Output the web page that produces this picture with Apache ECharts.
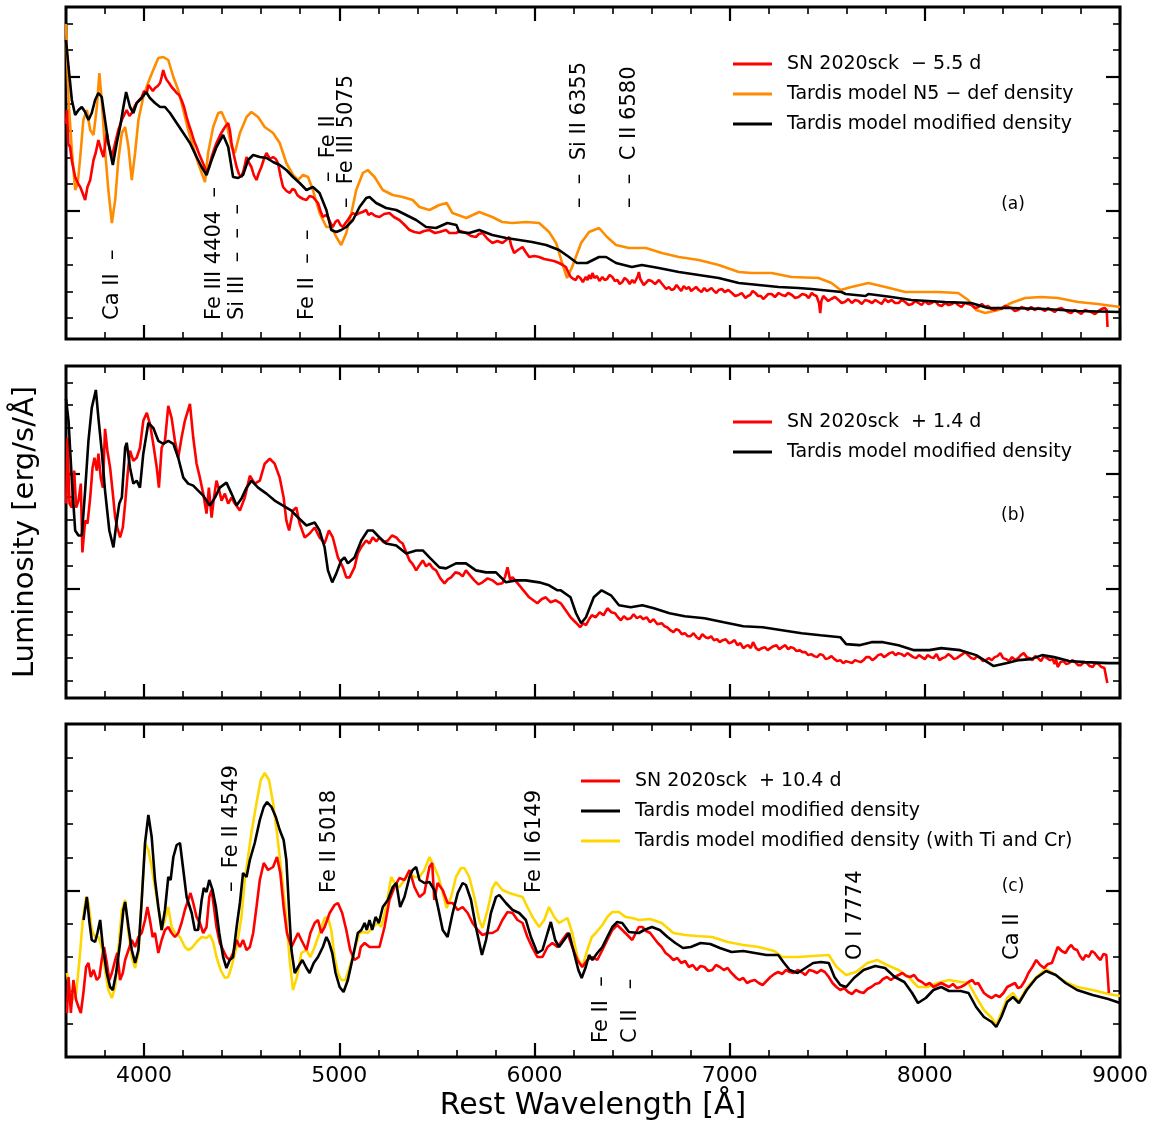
<!DOCTYPE html>
<html><head><meta charset="utf-8">
<script src="https://cdn.jsdelivr.net/npm/echarts@6/dist/echarts.min.js"></script>
<style>html,body{margin:0;padding:0;background:#fff;} #chart{width:1159px;height:1123px;}</style>
</head><body><div id="chart"></div>
<script>
// ---------- axis ticks / labels ----------
const xMin = 3600, xMax = 9000;
const xMajorTicks = [4000, 5000, 6000, 7000, 8000, 9000];
const xMinorTicks = [3800, 4200, 4400, 4600, 4800, 5200, 5400, 5600, 5800, 6200, 6400, 6600, 6800, 7200, 7400, 7600, 7800, 8200, 8400, 8600, 8800];
const yMaxA = 33.2, yMaxB = 33.3, yMaxC = 33.3;
const aYMajor = [12.8, 26.2];
const aYMinor = [2.08, 4.76, 7.44, 10.12, 15.48, 18.16, 20.84, 23.52, 28.88, 31.56];
const bYMajor = [10.97, 22.47];
const bYMinor = [1.77, 4.07, 6.37, 8.67, 13.27, 15.57, 17.87, 20.17, 24.77, 27.07, 29.37, 31.67];
const cYMajor = [16.63];
const cYMinor = [3.33, 6.65, 9.98, 13.3, 19.96, 23.28, 26.61, 29.93];

// ---------- names ----------
const aNames = ['SN 2020sck  \u2212 5.5 d', 'Tardis model N5 \u2212 def density', 'Tardis model modified density'];
const bNames = ['SN 2020sck  + 1.4 d', 'Tardis model modified density'];
const cNames = ['SN 2020sck  + 10.4 d', 'Tardis model modified density', 'Tardis model modified density (with Ti and Cr)'];

// ---------- panel (a) data: [wavelength, luminosity (arb.)] ----------
const aObs = [[3600,21.5],[3605,22.9],[3612,19.5],[3621,19.2],[3630,17.8],[3647,16.2],[3660,15.6],[3673,15.2],[3685,14.6],[3698,13.9],[3710,15.2],[3724,15.9],[3741,17.9],[3752,18.6],[3766,19.9],[3780,18.9],[3792,18.2],[3809,20.6],[3820,19.4],[3835,18.2],[3852,19.6],[3868,20.9],[3886,21.9],[3898,22.4],[3911,22.9],[3925,22.3],[3937,22.6],[3950,23.2],[3962,23.6],[3975,23.9],[3988,24.2],[4000,24.8],[4014,24.6],[4022,25.4],[4030,25.2],[4045,24.8],[4056,25.1],[4070,25.3],[4082,25.6],[4090,26.2],[4098,26.9],[4107,26.3],[4116,25.9],[4128,25.6],[4141,25.2],[4155,24.9],[4167,24.6],[4180,24.4],[4192,23.9],[4205,23.2],[4218,22.2],[4230,21.4],[4244,20.6],[4256,19.8],[4269,19.2],[4282,18.5],[4295,17.9],[4308,17.3],[4320,16.6],[4333,17.2],[4346,18.2],[4358,18.9],[4371,19.6],[4390,20.4],[4405,20.9],[4418,21.3],[4431,21.6],[4440,20.8],[4448,19.6],[4460,18.4],[4474,17.2],[4486,16.5],[4499,16.2],[4512,17.0],[4525,18.2],[4538,17.6],[4550,17.2],[4562,16.4],[4576,15.9],[4588,16.6],[4601,17.2],[4614,18.0],[4627,18.6],[4645,18.0],[4661,18.2],[4675,18.0],[4686,17.6],[4700,16.2],[4712,15.2],[4730,14.8],[4746,14.6],[4760,15.0],[4772,14.9],[4785,14.4],[4797,14.2],[4815,14.0],[4832,13.9],[4848,14.3],[4865,14.2],[4878,13.9],[4891,13.6],[4904,12.8],[4916,12.2],[4930,12.4],[4942,12.2],[4955,11.6],[4967,11.2],[4980,11.7],[4993,11.9],[5006,11.4],[5019,11.2],[5032,11.6],[5044,11.9],[5057,12.3],[5070,12.6],[5087,12.4],[5104,12.6],[5120,12.7],[5138,12.9],[5150,12.4],[5164,12.6],[5185,12.3],[5206,12.2],[5230,12.5],[5257,12.6],[5280,12.2],[5308,11.9],[5330,11.5],[5345,11.2],[5360,10.9],[5385,10.7],[5411,10.6],[5435,10.8],[5462,10.9],[5490,10.6],[5513,10.7],[5547,10.9],[5564,10.6],[5598,10.6],[5620,10.8],[5649,10.6],[5675,10.3],[5700,10.2],[5715,10.5],[5734,10.6],[5760,10.0],[5785,9.6],[5810,9.8],[5836,9.6],[5855,9.9],[5871,10.2],[5880,9.4],[5896,8.6],[5915,8.9],[5939,9.2],[5955,8.7],[5973,8.2],[6000,8.3],[6024,8.2],[6050,8.0],[6075,7.9],[6100,7.8],[6126,7.6],[6145,7.4],[6161,7.2],[6175,6.6],[6186,6.2],[6200,6.0],[6212,5.9],[6222,6.3],[6235,6.1],[6248,5.7],[6263,6.2],[6272,5.9],[6280,6.4],[6290,6.0],[6297,6.6],[6308,6.1],[6320,6.3],[6333,5.8],[6348,6.2],[6360,5.9],[6372,6.0],[6385,6.4],[6399,6.2],[6412,5.8],[6425,5.9],[6437,5.5],[6450,5.7],[6462,6.1],[6475,5.9],[6488,5.5],[6501,5.9],[6512,5.6],[6520,5.8],[6530,6.3],[6535,6.7],[6542,6.0],[6550,5.8],[6560,5.4],[6570,5.6],[6585,5.9],[6600,5.8],[6618,5.5],[6638,5.9],[6650,5.6],[6660,5.4],[6675,5.0],[6689,5.2],[6702,4.9],[6715,5.0],[6728,5.4],[6740,5.1],[6752,4.8],[6765,5.3],[6778,5.0],[6791,5.2],[6803,4.8],[6815,5.0],[6828,5.2],[6842,4.9],[6856,4.7],[6870,5.1],[6882,4.8],[6893,4.9],[6907,5.1],[6920,4.8],[6932,4.6],[6944,4.9],[6960,5.0],[6975,4.7],[6993,4.9],[7012,4.6],[7028,4.3],[7045,4.4],[7062,4.6],[7081,4.1],[7093,4.3],[7105,4.4],[7118,4.8],[7132,4.6],[7146,4.3],[7160,4.3],[7172,4.0],[7183,4.2],[7198,4.5],[7215,4.5],[7232,4.2],[7251,4.6],[7268,4.4],[7285,4.3],[7300,4.6],[7319,4.4],[7336,4.1],[7353,4.2],[7372,4.5],[7390,4.4],[7405,4.1],[7421,4.6],[7433,4.4],[7445,4.3],[7458,3.6],[7464,2.6],[7470,3.8],[7480,4.3],[7490,4.2],[7505,3.8],[7520,4.0],[7540,4.2],[7558,3.9],[7574,3.6],[7590,3.7],[7608,4.0],[7626,3.6],[7643,3.9],[7660,3.8],[7677,3.5],[7694,3.9],[7712,3.8],[7730,3.6],[7746,3.9],[7762,3.7],[7779,3.5],[7795,4.0],[7812,3.7],[7830,3.9],[7848,3.6],[7865,3.6],[7882,3.9],[7899,3.7],[7917,3.4],[7935,3.5],[7950,3.8],[7967,3.6],[7984,3.4],[8000,3.8],[8018,3.5],[8035,3.6],[8052,3.8],[8070,3.4],[8087,3.3],[8103,3.6],[8122,3.4],[8140,3.5],[8155,3.7],[8171,3.4],[8188,3.2],[8205,3.6],[8222,3.5],[8239,3.4],[8257,3.1],[8275,3.2],[8292,3.5],[8308,3.2],[8324,3.3],[8340,3.0],[8358,2.9],[8376,3.1],[8393,3.0],[8410,3.3],[8427,3.2],[8444,3.1],[8461,2.8],[8478,2.9],[8495,3.2],[8512,3.1],[8528,2.9],[8545,3.2],[8562,2.9],[8580,3.1],[8598,3.0],[8615,2.8],[8632,3.1],[8648,2.9],[8665,2.7],[8682,3.0],[8700,3.1],[8717,2.9],[8734,2.7],[8750,2.6],[8768,2.9],[8785,2.7],[8802,2.5],[8820,2.9],[8836,2.8],[8853,2.7],[8872,2.5],[8890,2.8],[8905,3.0],[8921,3.1],[8932,2.9],[8936,1.2]];
const aN5 = [[3600,31.5],[3613,23.9],[3630,18.9],[3647,14.9],[3660,15.5],[3673,18.2],[3689,21.9],[3707,22.9],[3724,20.9],[3741,20.4],[3758,23.2],[3771,26.6],[3783,23.9],[3800,18.9],[3817,14.9],[3835,11.6],[3852,13.9],[3868,17.9],[3886,20.6],[3903,21.2],[3920,19.2],[3937,15.9],[3954,18.6],[3971,21.9],[3996,24.2],[4022,25.7],[4047,26.9],[4073,28.1],[4098,28.2],[4124,27.9],[4150,26.2],[4175,24.9],[4201,22.9],[4226,20.9],[4252,19.2],[4277,17.6],[4312,15.7],[4328,18.6],[4354,21.2],[4380,22.6],[4397,22.7],[4422,21.6],[4448,19.2],[4465,18.6],[4491,20.6],[4525,22.2],[4550,22.7],[4584,22.2],[4618,21.2],[4661,20.6],[4695,19.6],[4729,17.6],[4763,16.4],[4789,15.9],[4814,16.4],[4840,16.2],[4865,14.9],[4899,12.6],[4934,11.2],[4959,11.2],[4985,10.2],[5010,9.4],[5036,10.6],[5062,12.6],[5087,14.9],[5121,16.6],[5146,16.9],[5181,16.2],[5223,14.9],[5274,14.4],[5325,14.2],[5376,13.9],[5411,13.2],[5462,12.9],[5513,13.4],[5550,13.6],[5580,12.6],[5651,12.1],[5717,12.7],[5784,12.2],[5835,11.7],[5886,11.6],[5958,11.7],[6024,11.6],[6075,10.7],[6111,9.6],[6142,7.6],[6167,6.1],[6193,7.2],[6239,9.6],[6280,10.7],[6331,11.1],[6372,10.2],[6418,9.4],[6484,9.1],[6571,9.1],[6653,8.6],[6740,8.2],[6842,7.9],[6944,7.4],[7047,6.7],[7113,6.6],[7215,6.6],[7317,6.2],[7455,6.1],[7522,5.6],[7568,4.9],[7624,5.2],[7711,5.6],[7798,5.2],[7900,4.7],[8069,4.7],[8171,4.6],[8222,3.9],[8263,2.9],[8309,2.6],[8376,2.9],[8442,3.6],[8514,4.1],[8595,4.2],[8682,4.1],[8785,3.7],[8887,3.5],[9000,3.2]];
const aMod = [[3600,29.9],[3613,27.2],[3630,23.9],[3647,22.4],[3664,22.9],[3681,23.2],[3698,22.7],[3715,21.9],[3732,22.6],[3749,23.9],[3766,24.6],[3783,24.2],[3800,21.9],[3817,19.6],[3840,17.4],[3860,19.6],[3877,21.2],[3894,23.2],[3908,24.7],[3928,23.2],[3945,22.6],[3962,23.6],[3988,24.1],[4010,24.7],[4030,24.1],[4056,23.6],[4082,23.2],[4107,23.2],[4133,22.6],[4167,21.6],[4201,20.6],[4235,19.6],[4269,18.2],[4295,17.2],[4320,16.4],[4346,17.9],[4371,19.2],[4405,20.4],[4431,19.2],[4456,16.2],[4482,16.1],[4507,16.4],[4533,17.9],[4559,18.4],[4593,18.2],[4627,18.1],[4661,17.7],[4695,17.4],[4729,16.9],[4763,16.2],[4797,15.6],[4832,14.9],[4865,15.2],[4899,14.6],[4934,12.9],[4959,10.9],[4985,10.7],[5010,10.9],[5036,11.2],[5070,11.9],[5104,13.2],[5138,14.1],[5155,14.2],[5189,13.6],[5240,13.1],[5292,12.9],[5343,12.4],[5394,11.9],[5445,11.2],[5496,11.1],[5554,11.6],[5600,11.4],[5615,10.7],[5666,10.6],[5717,10.9],[5784,10.4],[5855,10.1],[5922,9.9],[5988,9.7],[6060,9.4],[6126,8.9],[6177,8.2],[6218,7.6],[6269,7.6],[6331,8.2],[6367,8.2],[6418,7.6],[6499,7.2],[6550,7.4],[6637,7.1],[6740,6.7],[6842,6.4],[6944,6.1],[7047,5.6],[7149,5.4],[7251,5.2],[7353,5.1],[7420,5.0],[7573,4.7],[7594,4.5],[7696,4.3],[7711,4.5],[7829,4.2],[7931,3.9],[8104,3.7],[8237,3.6],[8324,3.1],[8442,3.1],[8616,3.0],[8785,2.8],[9000,2.7]];

// ---------- panel (b) data ----------
const bObs = [[3601,19.5],[3608,26.1],[3618,19.5],[3630,19.1],[3642,22.8],[3652,19.1],[3664,19.8],[3676,21.5],[3684,14.6],[3698,17.8],[3710,17.5],[3724,20.1],[3736,23.1],[3746,24.1],[3758,22.8],[3766,24.5],[3778,22.1],[3789,21.1],[3800,27.0],[3812,24.8],[3826,23.1],[3840,20.5],[3852,18.1],[3863,17.1],[3877,16.1],[3891,17.1],[3903,19.5],[3916,22.5],[3928,24.8],[3945,23.8],[3962,24.1],[3979,25.1],[3996,27.8],[4014,28.6],[4030,27.5],[4047,25.5],[4065,23.1],[4076,21.1],[4090,25.1],[4107,25.8],[4124,29.3],[4141,28.1],[4158,25.8],[4175,24.1],[4192,26.1],[4209,27.8],[4235,29.5],[4252,26.1],[4269,23.5],[4286,22.1],[4303,20.5],[4320,18.5],[4332,21.1],[4346,18.1],[4358,20.1],[4371,21.8],[4385,20.8],[4397,19.8],[4414,20.5],[4431,19.5],[4448,20.1],[4465,19.5],[4491,18.8],[4516,20.1],[4542,22.3],[4567,21.5],[4593,21.8],[4618,23.5],[4644,24.0],[4669,23.5],[4695,22.1],[4715,20.1],[4729,17.8],[4743,16.8],[4763,18.8],[4780,19.1],[4797,17.5],[4823,16.1],[4848,16.5],[4874,17.1],[4899,16.1],[4925,15.5],[4947,16.8],[4967,16.1],[4993,14.1],[5019,13.1],[5036,12.1],[5053,12.1],[5078,13.1],[5095,14.5],[5115,15.2],[5138,15.8],[5155,15.5],[5172,16.1],[5190,15.7],[5206,16.1],[5228,15.6],[5249,15.8],[5270,16.3],[5292,16.1],[5310,15.7],[5325,15.5],[5343,14.6],[5360,13.8],[5377,13.4],[5394,12.8],[5410,13.3],[5428,13.8],[5445,13.2],[5462,13.5],[5480,13.0],[5496,12.8],[5518,12.0],[5539,11.5],[5556,11.9],[5573,12.1],[5595,12.6],[5615,12.5],[5632,12.2],[5649,12.8],[5670,12.3],[5692,11.8],[5713,11.4],[5734,11.6],[5760,12.0],[5785,11.8],[5810,11.4],[5836,11.5],[5850,12.2],[5862,13.1],[5875,11.9],[5888,12.1],[5910,11.6],[5931,11.1],[5952,10.6],[5973,10.1],[5994,9.8],[6015,9.5],[6036,9.9],[6058,10.1],[6083,9.6],[6109,9.8],[6135,9.5],[6160,8.8],[6185,8.1],[6210,7.6],[6234,7.1],[6250,7.5],[6264,7.3],[6280,7.9],[6294,8.3],[6314,8.1],[6334,8.6],[6354,8.3],[6374,9.0],[6394,8.6],[6413,8.5],[6428,8.1],[6443,7.8],[6458,8.2],[6475,7.9],[6493,8.0],[6508,8.4],[6525,8.0],[6542,8.2],[6558,7.9],[6575,8.1],[6592,7.6],[6610,7.9],[6630,7.4],[6652,7.5],[6666,7.2],[6680,7.1],[6696,6.8],[6712,6.6],[6726,6.9],[6740,6.8],[6755,6.4],[6770,6.5],[6785,6.2],[6800,6.2],[6815,6.5],[6831,6.1],[6845,5.9],[6860,6.4],[6876,6.1],[6891,6.0],[6905,6.2],[6920,5.8],[6935,5.9],[6949,5.6],[6965,5.8],[6980,5.9],[6996,5.5],[7011,5.6],[7025,5.8],[7040,5.3],[7055,5.5],[7070,5.0],[7083,5.2],[7095,5.3],[7108,5.0],[7120,5.6],[7128,5.3],[7135,5.0],[7149,4.8],[7165,5.0],[7180,5.1],[7195,4.8],[7209,5.0],[7225,5.2],[7240,5.3],[7255,4.9],[7269,5.1],[7285,5.3],[7300,4.9],[7314,5.1],[7328,5.0],[7343,4.7],[7358,4.8],[7373,4.6],[7388,4.6],[7403,4.3],[7418,4.4],[7433,4.2],[7448,4.1],[7463,4.4],[7478,4.3],[7492,3.9],[7507,4.0],[7522,4.2],[7537,3.9],[7552,3.7],[7567,3.8],[7582,3.5],[7597,3.7],[7612,3.6],[7627,3.5],[7642,3.8],[7656,3.7],[7671,3.6],[7686,3.8],[7700,4.1],[7716,4.1],[7731,3.8],[7746,4.0],[7761,4.3],[7776,4.4],[7791,4.1],[7806,4.3],[7820,4.5],[7835,4.6],[7850,4.3],[7865,4.5],[7880,4.4],[7896,4.2],[7911,4.5],[7926,4.3],[7940,4.1],[7955,4.0],[7970,4.3],[7985,4.1],[8000,3.9],[8015,4.3],[8030,4.1],[8044,4.0],[8060,4.4],[8075,3.8],[8090,4.0],[8105,4.1],[8120,4.4],[8135,4.2],[8150,3.9],[8164,4.0],[8178,4.2],[8193,4.4],[8208,4.6],[8222,4.3],[8238,4.0],[8253,3.9],[8268,4.2],[8284,4.0],[8298,3.7],[8313,3.8],[8328,4.0],[8343,3.8],[8358,4.1],[8372,4.2],[8387,4.5],[8401,4.0],[8416,3.9],[8432,3.7],[8447,4.1],[8463,3.8],[8478,4.0],[8492,4.3],[8507,4.5],[8522,4.1],[8537,4.0],[8551,3.8],[8566,4.2],[8580,4.0],[8595,3.7],[8610,4.2],[8626,4.0],[8641,3.8],[8655,3.9],[8665,3.4],[8672,3.9],[8681,3.1],[8695,3.6],[8710,3.7],[8725,3.4],[8739,3.5],[8755,3.8],[8770,3.6],[8785,3.3],[8800,3.3],[8815,3.6],[8830,3.5],[8845,3.2],[8860,3.1],[8875,3.5],[8890,3.4],[8905,3.1],[8920,3.0],[8930,3.2],[8935,1.5]];
const bMod = [[3600,30.0],[3613,27.8],[3630,21.8],[3647,16.8],[3664,16.3],[3681,16.3],[3698,20.8],[3715,25.8],[3732,29.1],[3753,30.9],[3766,28.1],[3783,24.8],[3800,20.8],[3822,16.8],[3843,15.1],[3860,17.8],[3873,19.5],[3886,20.1],[3903,25.1],[3911,25.6],[3928,23.1],[3945,21.5],[3962,21.8],[3979,21.1],[3996,24.5],[4022,27.6],[4047,27.1],[4073,25.8],[4098,25.5],[4124,25.8],[4150,25.5],[4175,24.1],[4201,22.1],[4226,21.5],[4252,21.3],[4277,20.8],[4303,20.3],[4337,19.3],[4363,20.1],[4388,21.1],[4422,21.6],[4448,20.5],[4474,19.3],[4499,20.0],[4525,21.1],[4550,21.8],[4584,21.1],[4627,20.5],[4669,19.8],[4712,19.3],[4755,18.8],[4789,18.1],[4832,17.3],[4874,17.6],[4899,16.8],[4925,15.1],[4942,12.8],[4964,11.6],[4985,12.5],[5010,13.8],[5027,14.1],[5044,13.5],[5078,14.1],[5113,15.8],[5146,16.8],[5172,16.8],[5206,16.1],[5240,15.5],[5292,15.3],[5343,14.5],[5394,14.8],[5428,14.8],[5462,14.1],[5513,13.1],[5547,13.0],[5598,13.5],[5649,13.5],[5700,12.8],[5752,12.6],[5803,12.6],[5854,11.6],[5905,11.8],[5956,11.8],[6024,11.6],[6075,11.3],[6118,10.8],[6135,10.8],[6185,10.1],[6213,8.5],[6239,7.5],[6264,8.1],[6304,10.1],[6344,10.8],[6392,10.3],[6433,9.3],[6493,9.1],[6553,9.3],[6612,9.0],[6692,8.5],[6770,8.2],[6871,8.0],[6970,7.6],[7070,7.2],[7169,7.1],[7269,6.8],[7369,6.5],[7466,6.3],[7567,6.1],[7597,5.4],[7665,5.3],[7727,5.6],[7786,5.6],[7865,5.3],[7945,4.8],[8023,4.8],[8084,5.0],[8181,4.8],[8263,4.3],[8353,3.2],[8422,3.5],[8483,3.8],[8542,3.9],[8601,4.3],[8662,4.1],[8739,3.7],[8821,3.6],[8939,3.5],[9000,3.5]];

// ---------- panel (c) data ----------
const cObs = [[3605,4.4],[3613,8.0],[3625,4.4],[3638,7.7],[3652,5.7],[3664,5.0],[3676,4.4],[3689,6.4],[3703,9.0],[3715,9.4],[3727,8.0],[3741,8.7],[3758,7.7],[3771,8.0],[3783,9.7],[3795,11.0],[3809,9.4],[3822,7.7],[3835,8.4],[3852,9.7],[3863,10.4],[3877,7.7],[3891,8.4],[3903,9.7],[3920,10.7],[3937,11.7],[3954,11.0],[3971,12.0],[3988,12.4],[4005,13.7],[4017,15.0],[4030,13.7],[4044,12.0],[4056,12.4],[4073,10.4],[4090,11.7],[4107,12.7],[4124,13.0],[4141,12.4],[4158,12.0],[4175,12.4],[4192,13.4],[4209,14.7],[4226,15.7],[4238,16.4],[4252,15.4],[4269,14.0],[4286,13.4],[4303,12.4],[4320,13.0],[4334,16.0],[4346,16.7],[4358,15.0],[4371,13.0],[4388,11.4],[4405,10.7],[4422,10.0],[4439,9.7],[4456,10.4],[4474,11.7],[4491,11.0],[4507,11.7],[4525,10.7],[4542,11.0],[4559,12.4],[4576,15.0],[4593,17.7],[4613,19.4],[4635,18.7],[4661,19.0],[4681,20.0],[4698,18.4],[4715,15.0],[4732,12.4],[4755,11.0],[4772,11.7],[4789,12.4],[4806,11.7],[4832,10.7],[4852,12.4],[4874,13.4],[4891,13.7],[4908,12.4],[4925,13.0],[4951,14.4],[4976,15.2],[4993,15.4],[5015,14.4],[5036,12.7],[5056,10.7],[5078,9.7],[5100,10.0],[5110,11.0],[5130,11.4],[5155,11.0],[5181,11.0],[5206,11.0],[5232,13.0],[5257,15.7],[5283,17.0],[5308,17.9],[5334,17.7],[5360,18.7],[5385,17.0],[5411,16.0],[5436,16.4],[5462,19.0],[5476,19.4],[5487,15.7],[5504,17.4],[5530,16.7],[5555,15.4],[5581,15.4],[5607,14.7],[5632,15.0],[5658,14.4],[5683,13.4],[5709,12.7],[5734,12.2],[5760,12.4],[5785,12.4],[5811,12.7],[5836,13.7],[5862,14.5],[5888,14.4],[5913,13.7],[5939,13.4],[5964,12.0],[5990,10.9],[6015,10.0],[6041,10.0],[6067,11.0],[6092,11.4],[6118,11.0],[6143,11.7],[6169,12.4],[6194,11.0],[6220,9.7],[6245,9.0],[6271,9.7],[6297,10.0],[6322,9.7],[6348,10.7],[6373,11.7],[6399,12.7],[6424,13.2],[6450,12.7],[6476,12.2],[6501,11.7],[6535,13.0],[6553,13.0],[6572,12.6],[6593,12.4],[6612,11.9],[6632,11.4],[6652,11.0],[6672,10.4],[6692,10.1],[6712,9.7],[6732,9.9],[6752,9.4],[6772,9.6],[6791,9.0],[6811,9.2],[6831,8.7],[6851,9.1],[6871,9.0],[6891,8.6],[6911,8.7],[6930,9.2],[6950,9.0],[6970,8.7],[6990,8.9],[7005,8.5],[7020,8.2],[7035,7.9],[7050,7.7],[7070,7.9],[7089,7.4],[7109,7.6],[7129,7.7],[7149,7.4],[7169,7.2],[7189,7.6],[7209,8.0],[7229,8.3],[7249,8.5],[7269,8.3],[7289,8.7],[7308,8.5],[7328,8.4],[7348,8.7],[7368,8.5],[7388,8.2],[7408,8.7],[7428,8.6],[7448,8.4],[7468,8.7],[7488,8.5],[7508,8.0],[7527,7.4],[7547,7.0],[7567,6.7],[7587,6.9],[7607,6.5],[7627,6.3],[7647,6.7],[7667,6.5],[7686,6.4],[7706,6.8],[7726,7.0],[7746,7.3],[7766,7.4],[7786,7.8],[7806,8.0],[7826,7.7],[7846,8.0],[7866,8.2],[7885,8.4],[7905,8.1],[7925,8.0],[7945,8.2],[7965,7.7],[7985,7.5],[8005,7.2],[8025,7.4],[8044,7.0],[8064,7.2],[8084,7.4],[8104,7.2],[8124,7.0],[8144,7.3],[8164,6.9],[8184,7.0],[8204,7.2],[8224,7.5],[8243,7.7],[8258,7.3],[8273,7.4],[8288,6.9],[8303,6.4],[8323,6.1],[8343,5.9],[8363,6.2],[8383,6.0],[8403,6.4],[8422,7.0],[8442,7.2],[8462,7.4],[8477,6.9],[8492,7.0],[8512,7.6],[8531,8.4],[8551,9.0],[8571,9.7],[8591,9.2],[8611,8.9],[8631,9.3],[8651,9.4],[8666,10.2],[8681,11.0],[8701,10.6],[8721,10.4],[8736,10.9],[8750,11.2],[8765,10.8],[8780,10.7],[8795,10.1],[8810,9.7],[8825,10.2],[8840,10.0],[8855,10.6],[8870,10.4],[8885,10.0],[8900,9.7],[8915,10.3],[8930,10.2],[8940,10.0],[8943,6.4]];
const cMod = [[3690,13.7],[3707,16.0],[3720,13.5],[3732,11.7],[3749,11.5],[3761,12.4],[3775,13.7],[3789,11.0],[3809,8.4],[3826,7.0],[3840,6.7],[3857,8.4],[3877,11.4],[3894,14.7],[3903,15.5],[3920,13.0],[3937,10.7],[3954,9.4],[3971,10.7],[3988,15.7],[4005,21.4],[4022,24.2],[4039,22.0],[4056,17.7],[4073,15.0],[4090,12.7],[4107,14.7],[4124,18.0],[4136,17.7],[4150,20.0],[4167,21.2],[4184,21.4],[4201,18.7],[4218,16.0],[4244,14.4],[4260,12.7],[4277,12.7],[4295,15.7],[4306,16.9],[4320,16.5],[4334,17.7],[4351,16.7],[4368,15.0],[4385,12.4],[4405,10.0],[4422,8.9],[4439,9.7],[4456,10.0],[4474,13.0],[4491,15.4],[4507,18.4],[4525,18.0],[4542,19.7],[4567,21.4],[4593,23.7],[4613,25.0],[4630,25.5],[4653,25.0],[4675,24.0],[4695,22.7],[4715,21.7],[4729,19.7],[4743,14.7],[4755,10.7],[4772,8.4],[4789,9.0],[4811,9.7],[4832,8.9],[4848,8.4],[4869,9.4],[4891,10.0],[4916,11.0],[4934,12.0],[4947,11.5],[4964,10.4],[4981,8.4],[5002,7.0],[5022,6.5],[5044,7.7],[5070,10.0],[5095,12.4],[5113,12.7],[5130,13.4],[5141,12.7],[5155,13.7],[5169,12.7],[5186,14.0],[5203,13.4],[5223,15.0],[5249,15.7],[5274,17.0],[5292,17.4],[5312,15.0],[5334,16.0],[5360,18.0],[5376,18.7],[5394,19.0],[5411,17.7],[5436,17.4],[5462,17.5],[5487,16.7],[5509,14.7],[5530,12.7],[5555,12.0],[5581,14.4],[5607,16.4],[5632,17.4],[5649,17.2],[5675,15.7],[5700,13.0],[5731,10.2],[5752,11.7],[5777,14.4],[5803,16.0],[5820,16.2],[5854,15.4],[5888,14.7],[5922,14.4],[5956,13.7],[5982,12.0],[6015,10.4],[6041,10.7],[6067,12.4],[6084,13.5],[6106,11.7],[6126,11.0],[6152,11.7],[6177,12.4],[6203,10.4],[6225,8.7],[6242,7.9],[6263,9.0],[6280,10.2],[6297,9.7],[6322,10.4],[6348,11.0],[6373,12.0],[6399,13.0],[6424,13.5],[6450,13.4],[6484,12.5],[6535,12.4],[6562,12.7],[6602,13.0],[6642,12.7],[6682,12.0],[6722,11.4],[6761,10.9],[6801,11.0],[6851,11.4],[6901,11.3],[6950,10.9],[7010,10.5],[7070,10.6],[7129,10.4],[7189,10.2],[7249,10.2],[7279,9.4],[7308,8.7],[7348,8.4],[7388,8.9],[7428,9.4],[7468,9.5],[7508,9.4],[7537,8.0],[7567,7.2],[7597,7.0],[7637,7.9],[7686,8.7],[7746,9.1],[7796,8.9],[7846,8.0],[7895,7.5],[7935,6.4],[7965,5.4],[8005,5.9],[8044,6.7],[8084,7.0],[8124,6.6],[8184,6.6],[8224,6.4],[8263,5.0],[8303,4.0],[8343,3.5],[8366,3.0],[8392,4.0],[8422,5.5],[8452,6.0],[8482,5.4],[8522,6.7],[8571,7.9],[8621,8.6],[8671,8.2],[8721,7.4],[8780,6.7],[8860,6.2],[8940,5.8],[9000,5.4]];
const cTiCr = [[3605,8.4],[3621,6.4],[3635,5.7],[3652,6.4],[3669,9.7],[3686,13.7],[3703,16.0],[3715,15.4],[3732,12.7],[3749,12.0],[3766,12.0],[3783,11.0],[3800,8.7],[3817,6.7],[3835,5.9],[3852,7.0],[3868,10.7],[3886,14.7],[3903,15.7],[3920,12.4],[3937,10.0],[3954,8.9],[3971,10.4],[3988,15.7],[4005,21.4],[4022,20.7],[4039,19.0],[4056,17.0],[4073,15.0],[4090,12.7],[4107,13.7],[4124,15.0],[4141,13.0],[4158,12.4],[4184,12.0],[4209,11.0],[4226,10.7],[4244,10.9],[4269,11.5],[4295,12.0],[4320,11.9],[4337,12.2],[4354,11.5],[4371,10.0],[4392,8.7],[4414,7.9],[4431,8.0],[4448,9.0],[4474,11.0],[4499,14.0],[4516,17.7],[4533,20.0],[4550,22.4],[4576,25.4],[4598,27.7],[4618,28.4],[4640,27.7],[4661,25.4],[4681,22.4],[4704,18.4],[4726,14.4],[4746,9.7],[4763,6.7],[4783,8.0],[4806,10.4],[4832,10.7],[4852,10.0],[4874,11.0],[4899,12.4],[4925,13.9],[4942,14.0],[4959,12.7],[4976,10.0],[4993,8.4],[5010,7.7],[5032,7.7],[5053,9.0],[5078,10.7],[5104,12.4],[5121,12.5],[5146,12.4],[5172,13.0],[5198,13.4],[5215,13.0],[5240,15.0],[5266,18.0],[5283,17.4],[5308,17.0],[5334,17.7],[5360,18.4],[5385,18.0],[5411,18.0],[5436,18.7],[5462,20.0],[5487,19.0],[5509,18.0],[5530,16.4],[5550,14.9],[5573,16.0],[5598,18.0],[5624,18.9],[5641,18.9],[5666,18.0],[5692,16.0],[5717,13.7],[5734,12.9],[5760,14.7],[5785,16.9],[5803,17.5],[5836,16.7],[5871,16.4],[5905,16.2],[5939,16.0],[5964,15.0],[5990,14.0],[6024,13.0],[6050,13.7],[6075,15.0],[6101,14.0],[6126,13.4],[6152,13.7],[6169,13.9],[6194,12.4],[6220,10.0],[6245,9.0],[6271,10.7],[6294,12.0],[6314,12.4],[6348,13.2],[6373,14.0],[6399,14.5],[6433,14.5],[6467,14.0],[6501,13.9],[6535,13.7],[6593,13.8],[6652,13.4],[6712,12.4],[6771,12.2],[6831,12.1],[6911,12.0],[6990,11.5],[7070,11.2],[7149,11.0],[7229,10.6],[7269,10.0],[7348,10.0],[7428,10.1],[7508,10.2],[7548,9.0],[7597,8.2],[7647,8.5],[7706,9.4],[7756,9.7],[7806,9.2],[7865,8.7],[7916,8.0],[7965,7.0],[8015,7.0],[8064,7.4],[8124,7.7],[8184,7.5],[8224,7.4],[8263,6.0],[8303,4.7],[8343,3.9],[8366,3.2],[8392,4.4],[8422,5.9],[8452,6.4],[8482,5.5],[8522,6.9],[8571,8.0],[8621,8.8],[8671,8.2],[8721,7.5],[8780,7.0],[8860,6.7],[8940,6.3],[9000,6.1]];

// ---------- line identifications: [label, wavelength, luminosity at text base] ----------
const annA = [['Ca II  \u2013',3841,1.9],['Fe III 4404  \u2013',4363,1.9],['Si III  \u2013  \u2013  \u2013',4480,1.9],['Fe II  \u2013  \u2013',4838,1.9],['\u2013  Fe II',4945,15.7],['\u2013  Fe III 5075',5037,13.1],['\u2013  \u2013  Si II 6355',6233,13.1],['\u2013  \u2013  C II 6580',6489,13.1]];
const annC = [['\u2013  Fe II 4549',4450,16.5],['Fe II 5018',4951,16.4],['Fe II 6149',5999,16.4],['Fe II  \u2013',6342,1.4],['C II   \u2013',6490,1.4],['O I 7774',7644,9.7],['Ca II',8447,9.7]];
const panelTags = [['(a)',8452,13.4],['(b)',8452,18.3],['(c)',8452,17.0]];

// ---------- build chart ----------
const FONT = 'DejaVu Sans';
const RED = '#ff0000', ORANGE = '#ff8c00', GOLD = '#ffd700', BLACK = '#000000';
const chart = echarts.init(document.getElementById('chart'), null, {renderer: 'canvas', width: 1159, height: 1123});

const gridDefs = [
  {left: 66, width: 1054, top: 7, height: 332},
  {left: 66, width: 1054, top: 366, height: 332},
  {left: 66, width: 1054, top: 724, height: 333}
];
const yMaxes = [yMaxA, yMaxB, yMaxC];
const yMaj = [aYMajor, bYMajor, cYMajor];
const yMin = [aYMinor, bYMinor, cYMinor];

const grids = gridDefs.map(g => Object.assign({show: true, borderColor: '#000', borderWidth: 3, backgroundColor: 'transparent', containLabel: false, outerBoundsMode: 'none'}, g));

function tickAxisX(gi, pos, vals, len, labels) {
  const ax = {
    gridIndex: gi, type: 'value', min: xMin, max: xMax, position: pos,
    axisLine: {show: false, onZero: false},
    splitLine: {show: false},
    axisTick: {show: true, inside: true, length: len, lineStyle: {color: '#000', width: len > 10 ? 2.2 : 1.6}, customValues: vals},
    axisLabel: {show: false}
  };
  if (labels) {
    ax.axisLabel = {show: true, customValues: xMajorTicks, color: '#000', fontFamily: FONT, fontSize: 22, margin: 8,
      formatter: v => String(Math.round(v))};
    ax.name = 'Rest Wavelength [\u00c5]';
    ax.nameLocation = 'middle';
    ax.nameGap = 34;
    ax.nameTextStyle = {fontFamily: FONT, fontSize: 30, color: '#000', verticalAlign: 'top'};
  }
  return ax;
}
function tickAxisY(gi, pos, vals, len) {
  return {
    gridIndex: gi, type: 'value', min: 0, max: yMaxes[gi], position: pos,
    axisLine: {show: false, onZero: false},
    splitLine: {show: false},
    axisTick: {show: true, inside: true, length: len, lineStyle: {color: '#000', width: len > 10 ? 2.2 : 1.6}, customValues: vals},
    axisLabel: {show: false}
  };
}
const xAxes = [], yAxes = [];
for (let gi = 0; gi < 3; gi++) {
  xAxes.push(tickAxisX(gi, 'bottom', xMajorTicks, 14, gi === 2));
  xAxes.push(tickAxisX(gi, 'bottom', xMinorTicks, 7, false));
  xAxes.push(tickAxisX(gi, 'top', xMajorTicks, 14, false));
  xAxes.push(tickAxisX(gi, 'top', xMinorTicks, 7, false));
  yAxes.push(tickAxisY(gi, 'left', yMaj[gi], 14));
  yAxes.push(tickAxisY(gi, 'left', yMin[gi], 7));
  yAxes.push(tickAxisY(gi, 'right', yMaj[gi], 14));
  yAxes.push(tickAxisY(gi, 'right', yMin[gi], 7));
}

function spec(name, data, gi, color, z) {
  return {
    name: name, type: 'line', data: data, xAxisIndex: gi * 4, yAxisIndex: gi * 4,
    showSymbol: false, symbol: 'none', smooth: false, animation: false, clip: true,
    lineStyle: {color: color, width: 2.6}, itemStyle: {color: color}, z: z,
    emphasis: {disabled: true}
  };
}
const series = [
  spec(aNames[0], aObs, 0, RED, 3),
  spec(aNames[1], aN5, 0, ORANGE, 2),
  spec(aNames[2], aMod, 0, BLACK, 4),
  spec(bNames[0], bObs, 1, RED, 3),
  spec(bNames[1], bMod, 1, BLACK, 4),
  spec(cNames[0], cObs, 2, RED, 3),
  spec(cNames[1], cMod, 2, BLACK, 4),
  spec(cNames[2], cTiCr, 2, GOLD, 2)
];

function legendAt(names, left, top) {
  return {
    data: names, left: left, top: top, orient: 'vertical', icon: 'rect', padding: 0,
    itemWidth: 39, itemHeight: 3, itemGap: 10, selectedMode: false,
    textStyle: {fontFamily: FONT, fontSize: 19, color: '#000', lineHeight: 20, padding: [0, 0, 0, 10]}
  };
}

chart.setOption({
  animation: false,
  backgroundColor: '#ffffff',
  textStyle: {fontFamily: FONT},
  grid: grids,
  xAxis: xAxes,
  yAxis: yAxes,
  legend: [legendAt(aNames, 733, 54), legendAt(bNames, 733, 412), legendAt(cNames, 581, 771)],
  series: series
});

// text elements anchored through the axes' scales
const gfx = [];
function addRot(gi, list) {
  list.forEach(a => {
    const p = chart.convertToPixel({gridIndex: gi}, [a[1], a[2]]);
    gfx.push({type: 'text', x: p[0], y: p[1], rotation: Math.PI / 2, z: 10,
      style: {text: a[0], fill: '#000', font: '21px "DejaVu Sans"', align: 'left', verticalAlign: 'middle'}});
  });
}
addRot(0, annA);
addRot(2, annC);
panelTags.forEach((t, i) => {
  const p = chart.convertToPixel({gridIndex: i}, [t[1], t[2]]);
  gfx.push({type: 'text', x: p[0], y: p[1], z: 10,
    style: {text: t[0], fill: '#000', font: '17px "DejaVu Sans"', align: 'center', verticalAlign: 'middle'}});
});
const pb = chart.convertToPixel({gridIndex: 1}, [xMin, yMaxB / 2]);
gfx.push({type: 'text', x: pb[0] - 41, y: pb[1], rotation: Math.PI / 2, z: 10,
  style: {text: 'Luminosity [erg/s/\u00c5]', fill: '#000', font: '29px "DejaVu Sans"', align: 'center', verticalAlign: 'middle'}});
chart.setOption({graphic: gfx});
</script>
</body></html>
